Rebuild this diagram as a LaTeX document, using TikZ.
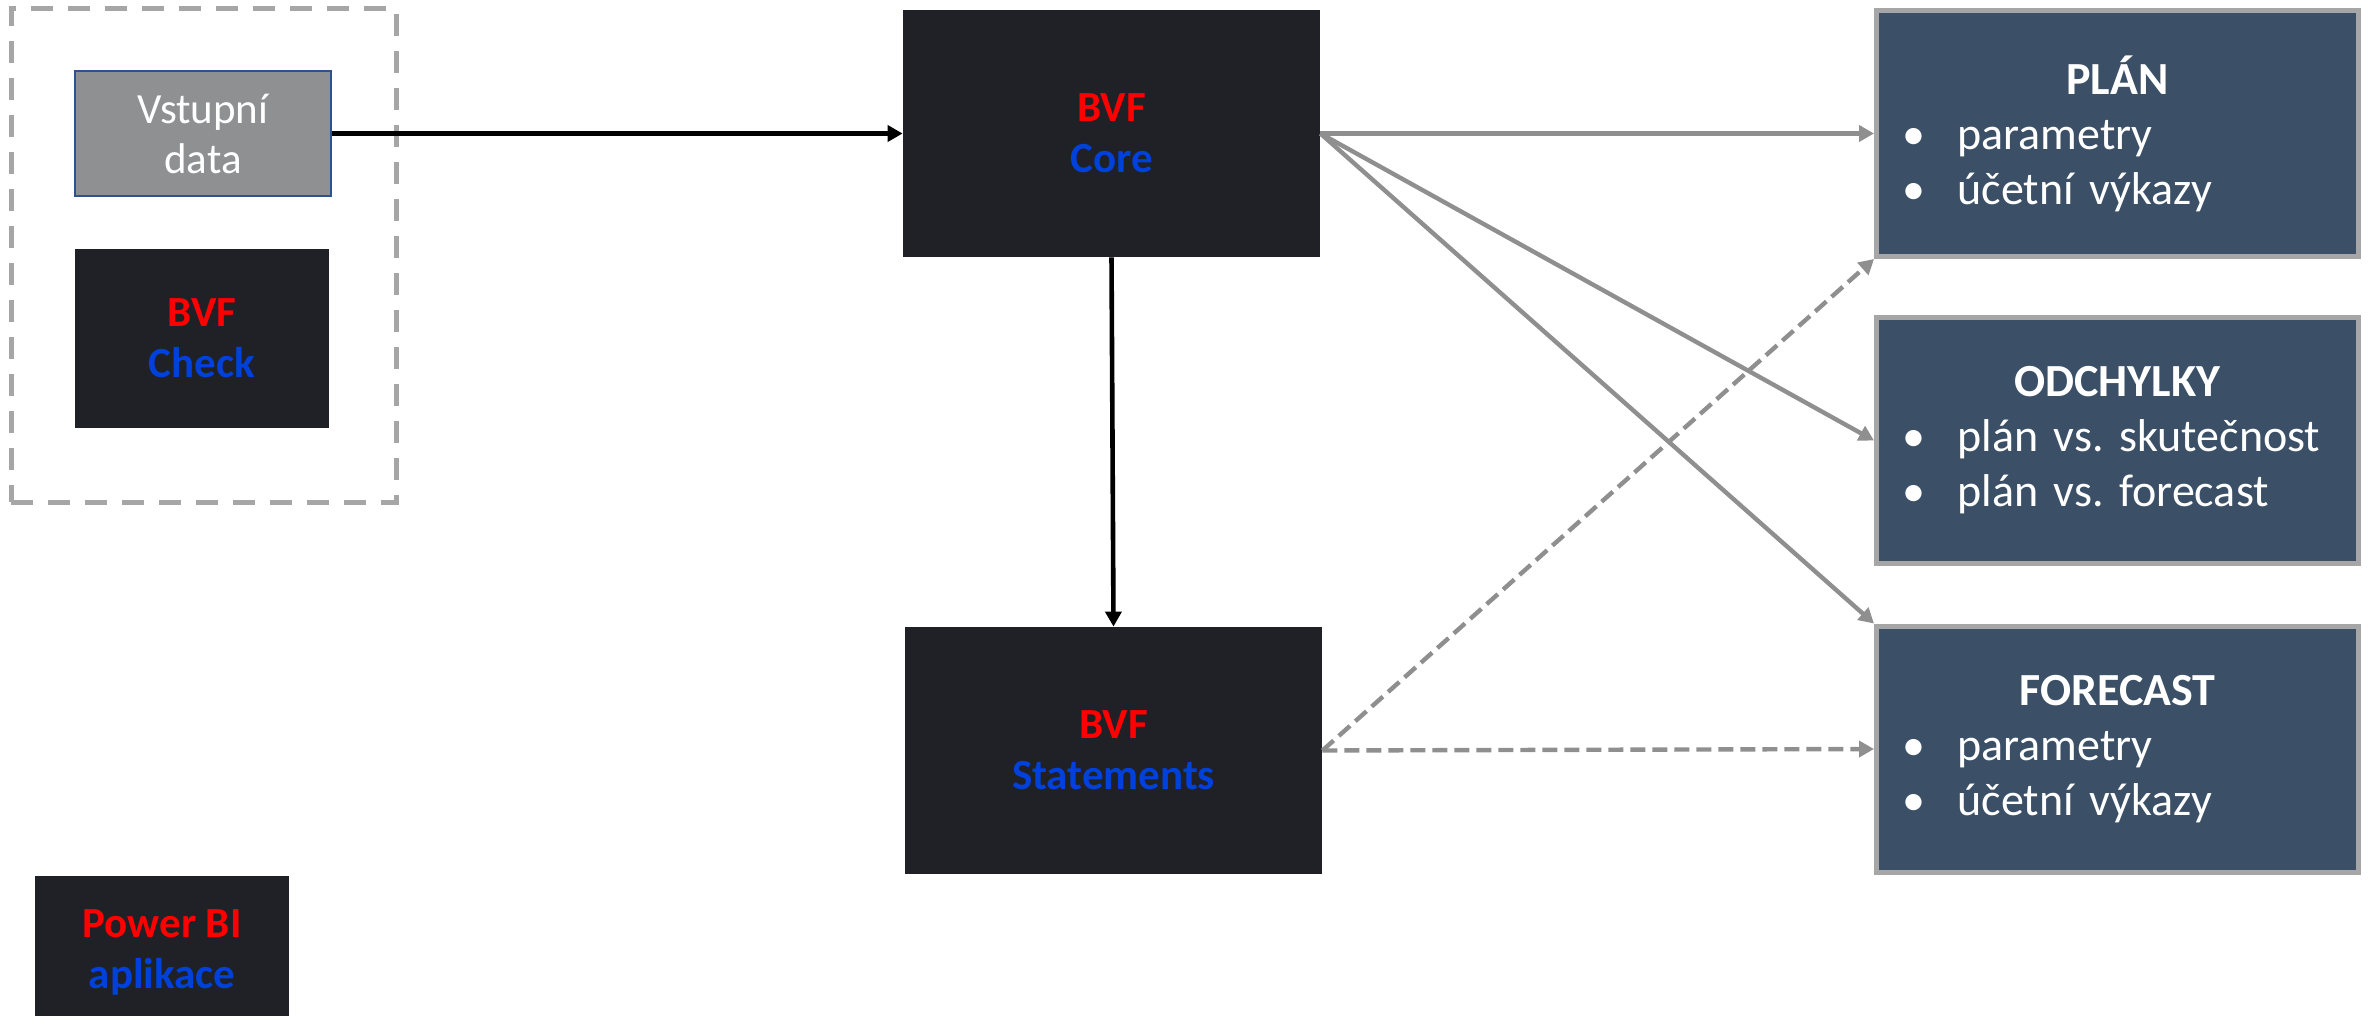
\documentclass[tikz,border=0pt]{standalone}
\usepackage{fontspec}
\setmainfont{Carlito}
\usetikzlibrary{arrows.meta}
\frenchspacing

\definecolor{appbg}{HTML}{1F2126}
\definecolor{slate}{HTML}{3B5066}
\definecolor{inputgray}{HTML}{8F9092}
\definecolor{inputedge}{HTML}{2F528F}
\definecolor{framegray}{HTML}{A6A6A6}
\definecolor{linkgray}{HTML}{8F8F8F}
\definecolor{bvfred}{HTML}{FF0000}
\definecolor{bvfblue}{HTML}{0041DC}

\tikzset{
  appbox/.style={fill=appbg, inner sep=0pt, align=center,
    font=\fontsize{21.5}{25.5}\selectfont\bfseries},
  outbox/.style={fill=slate, draw=framegray, line width=2.5pt,
    minimum width=241pt, minimum height=123pt, inner sep=0pt,
    text width=241pt, text=white, align=left,
    font=\fontsize{23}{27.5}\selectfont},
  inputbox/.style={fill=inputgray, draw=inputedge, line width=1pt,
    minimum width=128pt, minimum height=62.5pt, text=white, align=center,
    font=\fontsize{21.5}{25}\selectfont},
  groupframe/.style={draw=framegray, line width=2.5pt,
    dash pattern=on 11pt off 7.5pt, minimum width=192.5pt, minimum height=246.5pt},
  flow/.style={draw=black, line width=2.3pt,
    -{Triangle[length=7.5pt,width=8pt]}},
  feed/.style={draw=linkgray, line width=2.2pt,
    -{Triangle[length=7.5pt,width=8pt]}},
  feeddash/.style={feed, dash pattern=on 7.5pt off 3.5pt}
}

\newcommand{\bvf}[2]{\textcolor{bvfred}{#1}\\\textcolor{bvfblue}{#2}}
\newcommand{\outtext}[3]{%
  {\centering\textbf{#1}\par}%
  \hspace*{13pt}\makebox[27.5pt][l]{\textbullet}#2\par
  \hspace*{13pt}\makebox[27.5pt][l]{\textbullet}#3}

\begin{document}
\begin{tikzpicture}[x=0.5pt, y=-0.5pt]
  \useasboundingbox (0,0) rectangle (2369,1016);

  % input group
  \node[groupframe] (grp) at (203.5,255.5) {};
  \node[inputbox] (vstup) at (203,133.5) {Vstupní\\data};
  \node[appbox, minimum width=127pt, minimum height=89.5pt] (check) at (202,338.5)
    {\bvf{BVF}{Check}};

  % core applications
  \node[appbox, minimum width=208.5pt, minimum height=123.5pt] (core) at (1111.5,133.5)
    {\bvf{BVF}{Core}};
  \node[appbox, minimum width=208.5pt, minimum height=123.5pt] (stmt) at (1113.5,750.5)
    {\bvf{BVF}{Statements}};

  % legend
  \node[appbox, minimum width=127pt, minimum height=76pt] (pbi) at (162,952)
    {\bvf{Power BI}{aplikace}};

  % outputs
  \node[outbox] (plan) at (2117.5,133.5) {\outtext{PLÁN}{parametry}{účetní výkazy}};
  \node[outbox] (odch) at (2117.5,440.5) {\outtext{ODCHYLKY}{plán vs. skutečnost}{plán vs. forecast}};
  \node[outbox] (fcst) at (2117.5,749) {\outtext{FORECAST}{parametry}{účetní výkazy}};

  % connectors
  \draw[flow] (vstup.east) -- (core.west);
  \draw[flow] (core.south) -- (stmt.north);
  \draw[feed] (core.east) -- (plan.west);
  \draw[feed] (core.east) -- (odch.west);
  \draw[feed] (core.east) -- (fcst.north west);
  \draw[feeddash] (stmt.east) -- (plan.south west);
  \draw[feeddash] (stmt.east) -- (fcst.west);
\end{tikzpicture}
\end{document}
